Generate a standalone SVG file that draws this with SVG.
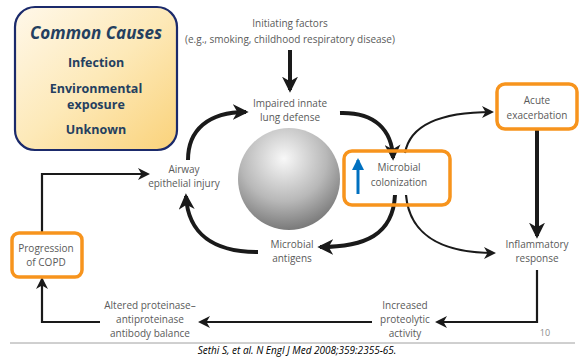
<svg xmlns="http://www.w3.org/2000/svg" width="581" height="357" viewBox="0 0 581 357">
<style>
.t{font-family:"Open Sans","Liberation Sans",sans-serif;font-size:10px;fill:#5a5a5a;text-anchor:middle}
.c{font-family:"Open Sans","Liberation Sans",sans-serif;font-weight:bold;font-size:12.5px;fill:#243f60;text-anchor:middle}
.thick{fill:none;stroke:#1a1a1a;stroke-width:4}
.thin{fill:none;stroke:#1a1a1a;stroke-width:2.2}
.orange{fill:none;stroke:#f7941d;stroke-width:3.5}
</style>
<defs>
<linearGradient id="cg" x1="0" y1="0" x2="1" y2="1">
<stop offset="0" stop-color="#fff8ea"/>
<stop offset="0.5" stop-color="#fde9b8"/>
<stop offset="1" stop-color="#fad27a"/>
</linearGradient>
<radialGradient id="sg" cx="0.45" cy="0.3" r="0.7">
<stop offset="0" stop-color="#f8f8f8"/>
<stop offset="0.6" stop-color="#b8b8b8"/>
<stop offset="1" stop-color="#7a7a7a"/>
</radialGradient>
<marker id="ab" viewBox="0 0 12 12" markerWidth="16" markerHeight="16" refX="10" refY="6" orient="auto" markerUnits="userSpaceOnUse">
<path d="M0,0 L12,6 L0,12 L3.5,6 Z" fill="#1a1a1a"/>
</marker>
<marker id="as" viewBox="0 0 12 12" markerWidth="12" markerHeight="12" refX="10" refY="6" orient="auto" markerUnits="userSpaceOnUse">
<path d="M0,0 L12,6 L0,12 L3.5,6 Z" fill="#1a1a1a"/>
</marker>
<marker id="ablue" viewBox="0 0 12 12" markerWidth="12" markerHeight="12" refX="10" refY="6" orient="auto" markerUnits="userSpaceOnUse">
<path d="M0,0 L12,6 L0,12 Z" fill="#0070c0"/>
</marker>
</defs>
<rect width="581" height="357" fill="#ffffff"/>

<g id="connectors">
<path class="thick" d="M290,50 L290,90" marker-end="url(#ab)"/>
<path class="thick" d="M188,160 C188,130 208,112 246,112" marker-end="url(#ab)"/>
<path class="thick" d="M340,113 C375,112 392,130 393,158" marker-end="url(#ab)"/>
<path class="thin" d="M405,153 C410,125 440,112 492,112" marker-end="url(#as)"/>
<path class="thick" d="M395,195 C393,235 365,247 320,247" marker-end="url(#ab)"/>
<path class="thin" d="M406,195 C410,240 450,253 494,253" marker-end="url(#as)"/>
<path class="thick" d="M258,252 C215,252 188,235 186,196" marker-end="url(#ab)"/>
<path class="thick" d="M537,130 L537,236" marker-end="url(#ab)"/>
<path class="thin" d="M537,270 L537,322 L437,322" marker-end="url(#as)"/>
<path class="thin" d="M372,322 L200,322" marker-end="url(#as)"/>
<path class="thin" d="M100,322 L42,322 L42,279" marker-end="url(#as)"/>
<path class="thin" d="M42,232 L42,174 L148,174" marker-end="url(#as)"/>
</g>

<g id="common-causes">
<rect x="15" y="7" width="162" height="143" rx="20" fill="url(#cg)" stroke="#1b2a6b" stroke-width="2.2"/>
<text x="96" y="39" style="font-family:'Open Sans','Liberation Sans',sans-serif;font-weight:bold;font-style:italic;font-size:17px;fill:#243f60;text-anchor:middle">Common Causes</text>
<text class="c" x="96" y="67">Infection</text>
<text class="c" x="96" y="93">Environmental</text>
<text class="c" x="96" y="109">exposure</text>
<text class="c" x="96" y="134">Unknown</text>
</g>

<g id="initiating">
<text class="t" x="290" y="27">Initiating factors</text>
<text class="t" x="290" y="43">(e.g., smoking, childhood respiratory disease)</text>
</g>

<g id="impaired">
<text class="t" x="290" y="107">Impaired innate</text>
<text class="t" x="290" y="121">lung defense</text>
</g>

<g id="sphere">
<circle cx="289" cy="179" r="51" fill="url(#sg)"/>
</g>

<g id="airway">
<text class="t" x="184" y="173">Airway</text>
<text class="t" x="184" y="187">epithelial injury</text>
</g>

<g id="antigens">
<text class="t" x="292" y="248">Microbial</text>
<text class="t" x="292" y="262">antigens</text>
</g>

<g id="colonization">
<rect class="orange" x="344" y="151" width="106" height="54" rx="8"/>
<text class="t" x="399" y="171">Microbial</text>
<text class="t" x="399" y="186">colonization</text>
<path d="M358,194 L358,160" stroke="#0070c0" stroke-width="3" fill="none" marker-end="url(#ablue)"/>
</g>

<g id="acute">
<rect class="orange" x="497" y="84" width="80" height="45" rx="8"/>
<text class="t" x="537" y="104">Acute</text>
<text class="t" x="537" y="119">exacerbation</text>
</g>

<g id="inflammatory">
<text class="t" x="537" y="248">Inflammatory</text>
<text class="t" x="537" y="262">response</text>
</g>

<g id="proteolytic">
<text class="t" x="405" y="309">Increased</text>
<text class="t" x="405" y="323">proteolytic</text>
<text class="t" x="405" y="337">activity</text>
</g>

<g id="altered">
<text class="t" x="150" y="309">Altered proteinase–</text>
<text class="t" x="150" y="323">antiproteinase</text>
<text class="t" x="150" y="337">antibody balance</text>
</g>

<g id="progression">
<rect class="orange" x="12" y="233" width="70" height="44" rx="7" fill="#ffffff"/>
<text class="t" x="46" y="252">Progression</text>
<text class="t" x="46" y="266">of COPD</text>
</g>

<g id="footer">
<line x1="10" y1="343" x2="575" y2="343" stroke="#a0a0a0" stroke-width="1"/>
<text x="297" y="354" style="font-family:'Open Sans','Liberation Sans',sans-serif;font-style:italic;font-size:10px;fill:#000000;text-anchor:middle">Sethi S, et al. N Engl J Med 2008;359:2355-65.</text>
<text x="545" y="336" style="font-family:'Open Sans','Liberation Sans',sans-serif;font-size:9px;fill:#8c8c8c;text-anchor:middle">10</text>
</g>
</svg>
